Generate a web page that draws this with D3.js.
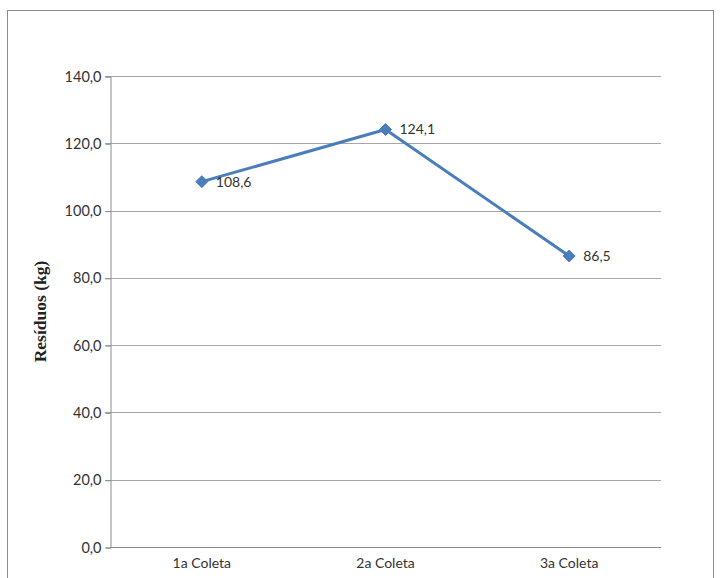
<!DOCTYPE html>
<html>
<head>
<meta charset="utf-8">
<script src="https://cdn.jsdelivr.net/npm/d3@7"></script>
<style>
  html, body { margin: 0; padding: 0; background: #fff; }
  svg { display: block; }
</style>
</head>
<body>
<svg id="chart" width="721" height="578"></svg>
<script>
// Waste collected per collection round
const categories = ["1a Coleta", "2a Coleta", "3a Coleta"];
const values = [108.6, 124.1, 86.5];
const yTicks = [0, 20, 40, 60, 80, 100, 120, 140];
const yTitle = "Resíduos (kg)";

const svg = d3.select("#chart");
const plot = { left: 110, right: 661, top: 76, bottom: 547 };
const labelFont = "Lato, 'Open Sans', sans-serif";

const fmt = v => d3.format(".1f")(v).replace(".", ",");

// outer chart frame
svg.append("rect")
  .attr("x", 7.5).attr("y", 10.5)
  .attr("width", 706).attr("height", 600)
  .attr("fill", "#fff").attr("stroke", "#8c8c8c").attr("stroke-width", 1);

const x = d3.scaleBand().domain(categories).range([plot.left, plot.right]);
const y = d3.scaleLinear().domain([0, 140]).range([plot.bottom, plot.top]);

// horizontal gridlines
svg.append("g").selectAll("line").data(yTicks.filter(t => t > 0)).join("line")
  .attr("x1", plot.left - 5).attr("x2", plot.right)
  .attr("y1", d => Math.round(y(d)) + 0.5).attr("y2", d => Math.round(y(d)) + 0.5)
  .attr("stroke", "#a6a6a6").attr("stroke-width", 1);

// y axis
const yAxis = d3.axisLeft(y).tickValues(yTicks).tickFormat(fmt).tickSize(5).tickPadding(4);
const gy = svg.append("g").attr("transform", `translate(${plot.left + 0.5},0.5)`).call(yAxis);
gy.select(".domain").attr("stroke", "#8c8c8c");
gy.selectAll(".tick line").attr("stroke", "#8c8c8c");
gy.selectAll(".tick text")
  .attr("fill", "#333").style("font-family", labelFont).style("font-size", "14.5px");

// x axis
const xAxis = d3.axisBottom(x).tickSize(0).tickPadding(11);
const gx = svg.append("g").attr("transform", `translate(0,${plot.bottom + 0.5})`).call(xAxis);
gx.select(".domain").attr("stroke", "#8c8c8c").attr("d", `M${plot.left},0H${plot.right}`);
gx.selectAll(".tick text")
  .attr("fill", "#333").style("font-family", labelFont).style("font-size", "14px");

// axis title
svg.append("text")
  .attr("transform", `translate(46,${(plot.top + plot.bottom) / 2}) rotate(-90)`)
  .attr("text-anchor", "middle")
  .style("font-family", "'Liberation Serif', 'Times New Roman', serif")
  .style("font-weight", "bold").style("font-size", "17.5px")
  .attr("fill", "#222")
  .text(yTitle);

const cx = d => x(d) + x.bandwidth() / 2;
const data = categories.map((c, i) => ({ c, v: values[i] }));

// series line
svg.append("path").datum(data)
  .attr("fill", "none").attr("stroke", "#4a7ebb").attr("stroke-width", 3)
  .attr("stroke-linejoin", "round")
  .attr("d", d3.line().x(d => cx(d.c)).y(d => y(d.v)));

// diamond markers
svg.append("g").selectAll("path").data(data).join("path")
  .attr("transform", d => `translate(${cx(d.c)},${y(d.v)})`)
  .attr("d", "M0,-6L6,0L0,6L-6,0Z")
  .attr("fill", "#4a7ebb").attr("stroke", "#4a7ebb").attr("stroke-width", 1);

// value labels
svg.append("g").selectAll("text").data(data).join("text")
  .attr("x", d => cx(d.c) + 14).attr("y", d => y(d.v) + 5)
  .style("font-family", labelFont).style("font-size", "14px")
  .attr("fill", "#333")
  .text(d => fmt(d.v));
</script>
</body>
</html>
